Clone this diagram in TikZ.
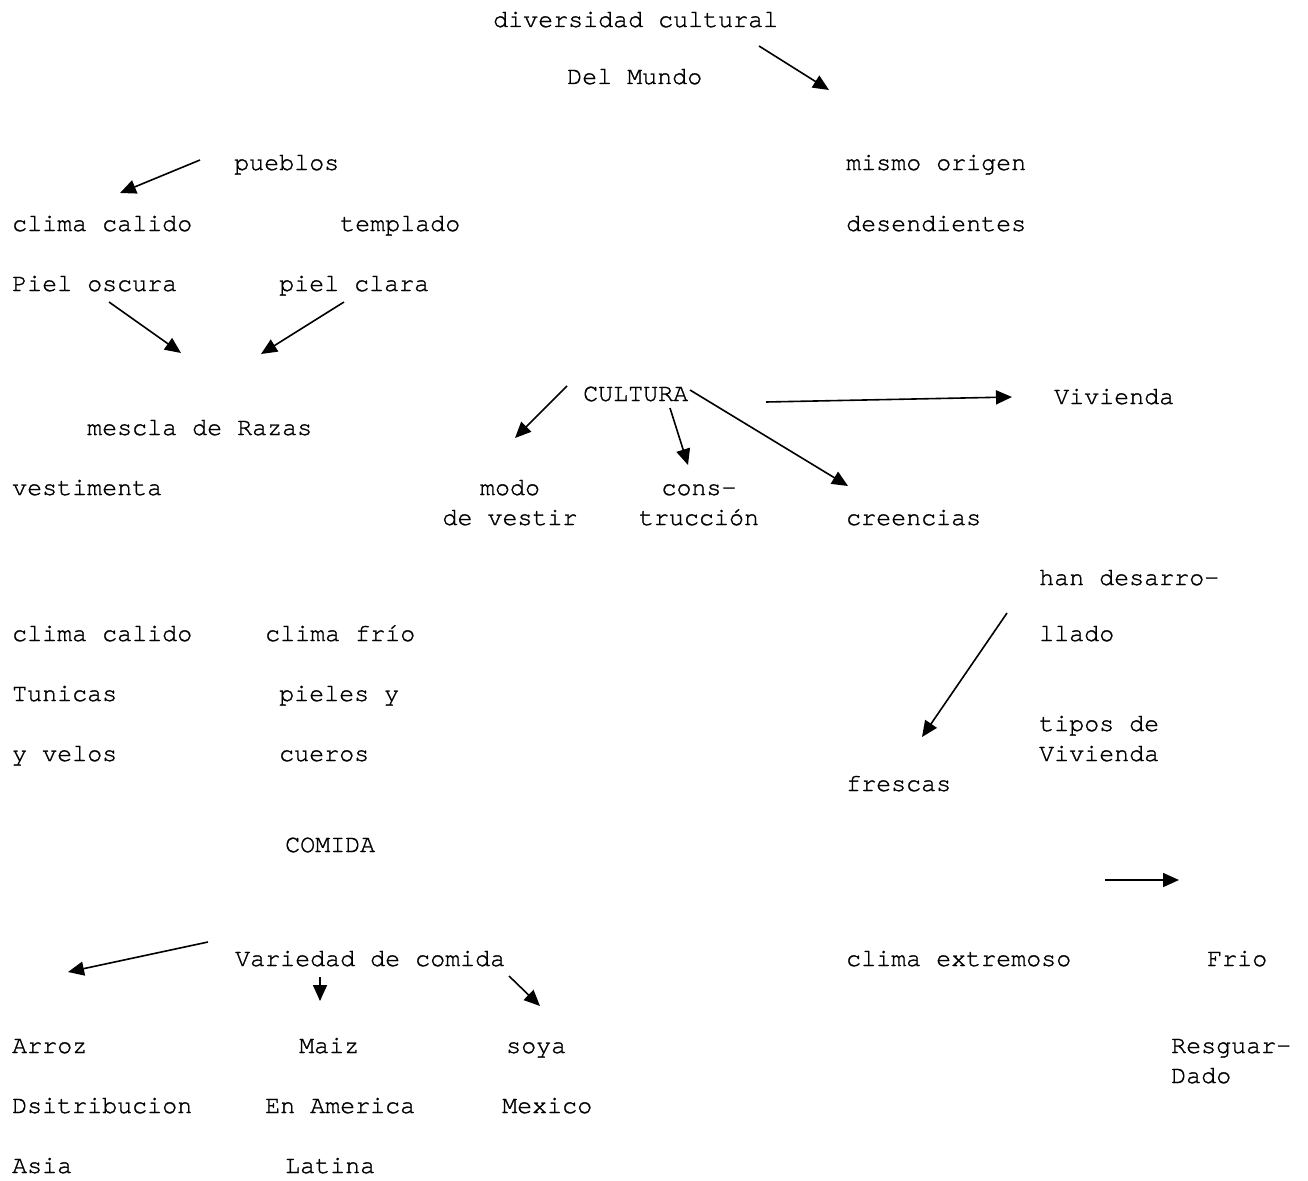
\documentclass[tikz,border=0pt]{standalone}
\usepackage{fontspec}
\setmainfont{texgyrecursor-regular.otf}[BoldFont=texgyrecursor-regular.otf, BoldFeatures={FakeBold=1.2}]
\usetikzlibrary{arrows.meta}
\begin{document}
\begin{tikzpicture}[x=1pt,y=-1pt,
  txt/.style={anchor=base west, inner sep=0pt, font=\fontsize{25}{30}\selectfont\bfseries},
  ctxt/.style={anchor=base, inner sep=0pt, align=center, font=\fontsize{25}{30}\selectfont\bfseries},
  ltxt/.style={anchor=base west, inner sep=0pt, align=left, font=\fontsize{25}{30}\selectfont\bfseries},
  arr/.style={line width=1.6pt, -{Triangle[length=16pt,width=14pt]}}]
\useasboundingbox[fill=white] (0,0) rectangle (1308,1180);
% texts
\node[txt] (div) at (493,27) {diversidad cultural};
\node[txt] (mundo) at (567,84) {Del Mundo};
\node[txt] (pueblos) at (234,170) {pueblos};
\node[txt] (origen) at (846,170) {mismo origen};
\node[txt] (calido1) at (12,231) {clima calido};
\node[txt] (templado) at (340,231) {templado};
\node[txt] (desend) at (846,231) {desendientes};
\node[txt] (oscura) at (12,291) {Piel oscura};
\node[txt] (clara) at (279,291) {piel clara};
\node[txt] (cultura) at (583,401) {CULTURA};
\node[txt] (vivienda) at (1054,404) {Vivienda};
\node[txt] (mescla) at (87,435) {mescla de Razas};
\node[txt] (vest) at (12,495) {vestimenta};
\node[ctxt] (modo) at (510,525) {modo\\de vestir};
\node[ctxt] (cons) at (699,525) {cons-\\trucción};
\node[txt] (creencias) at (846,525) {creencias};
\node[txt] (han) at (1039,585) {han desarro-};
\node[txt] (llado) at (1039,641) {llado};
\node[txt] (calido2) at (12,641) {clima calido};
\node[txt] (frio1) at (265,641) {clima frío};
\node[txt] (tunicas) at (12,701) {Tunicas};
\node[txt] (pieles) at (279,701) {pieles y};
\node[ltxt] (tipos) at (1039,761) {tipos de\\Vivienda};
\node[txt] (velos) at (12,761) {y velos};
\node[txt] (cueros) at (279,761) {cueros};
\node[txt] (frescas) at (846,791) {frescas};
\node[txt] (comida) at (285,852) {COMIDA};
\node[txt] (variedad) at (235,966) {Variedad de comida};
\node[txt] (extremoso) at (846,966) {clima extremoso};
\node[txt] (frio2) at (1207,966) {Frio};
\node[txt] (arroz) at (12,1053) {Arroz};
\node[txt] (maiz) at (299,1053) {Maiz};
\node[txt] (soya) at (506,1053) {soya};
\node[ltxt] (resg) at (1171,1083) {Resguar-\\Dado};
\node[txt] (dsit) at (12,1113) {Dsitribucion};
\node[txt] (america) at (265,1113) {En America};
\node[txt] (mexico) at (502,1113) {Mexico};
\node[txt] (asia) at (12,1173) {Asia};
\node[txt] (latina) at (285,1173) {Latina};
% arrow end points
\coordinate (a1s) at (759,46);  \coordinate (a1e) at (829,90);
\coordinate (a2s) at (200,160); \coordinate (a2e) at (120,193);
\coordinate (a3s) at (109,302); \coordinate (a3e) at (181,353);
\coordinate (a4s) at (344,302); \coordinate (a4e) at (261,354);
\coordinate (a5s) at (567,386); \coordinate (a5e) at (515,438);
\coordinate (a6s) at (670,408); \coordinate (a6e) at (688,465);
\coordinate (a7s) at (690,390); \coordinate (a7e) at (848,486);
\coordinate (a8s) at (766,402); \coordinate (a8e) at (1012,397);
\coordinate (a9s) at (1007,613); \coordinate (a9e) at (922,737);
\coordinate (a10s) at (208,942); \coordinate (a10e) at (68,972);
\coordinate (a11s) at (320,977); \coordinate (a11e) at (320,1001);
\coordinate (a12s) at (509,976); \coordinate (a12e) at (540,1006);
\coordinate (a13s) at (1105,880); \coordinate (a13e) at (1179,880);
\foreach \i in {1,...,13} { \draw[arr] (a\i s) -- (a\i e); }
\end{tikzpicture}
\end{document}
